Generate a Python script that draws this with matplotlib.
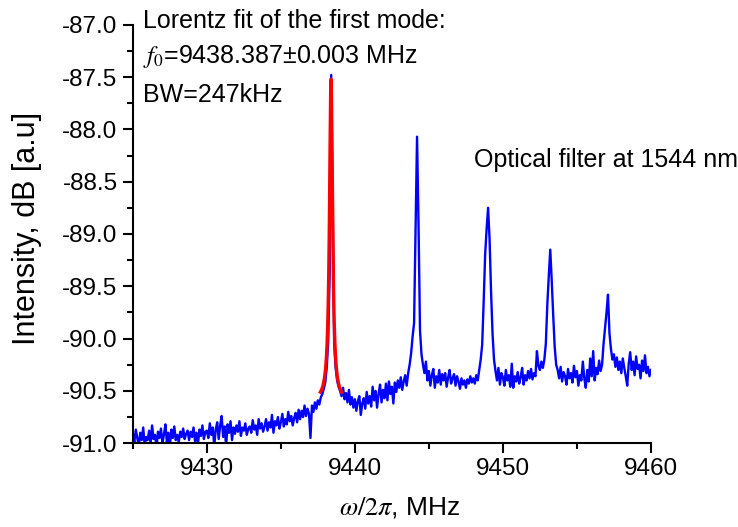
import numpy as np
import matplotlib.pyplot as plt
from matplotlib.ticker import MultipleLocator, FormatStrFormatter

plt.rcParams['font.family'] = ['Liberation Sans', 'DejaVu Sans']
plt.rcParams['mathtext.fontset'] = 'stix'
plt.rcParams['axes.unicode_minus'] = False

# spectrum analyser sweep: start frequency and step (MHz)
f_start = 9425.0
f_step = 0.1

# measured intensity, dB, one row per MHz
intensity_db = [
    -90.93, -90.99, -90.87, -90.95, -91.03, -90.90, -90.97, -90.85, -91.02, -90.94,
    -90.97, -90.88, -91.01, -90.83, -90.96, -90.92, -91.04, -90.89, -90.95, -90.86,
    -91.00, -90.92, -90.82, -90.99, -90.90, -91.03, -90.87, -90.95, -90.84, -90.97,
    -90.92, -90.99, -90.89, -90.94, -90.86, -90.96, -90.91, -90.88, -90.97, -90.89,
    -90.94, -90.85, -90.98, -90.90, -91.01, -90.87, -90.93, -90.83, -90.96, -90.89,
    -90.88, -90.95, -90.81, -90.92, -90.85, -91.03, -90.87, -90.80, -90.96, -90.83,
    -90.74, -90.94, -90.84, -91.03, -90.82, -90.90, -90.79, -90.97, -90.85, -90.91,
    -90.83, -90.89, -90.79, -90.93, -90.85, -90.88, -90.81, -90.92, -90.86, -90.84,
    -90.90, -90.78, -90.87, -90.83, -90.92, -90.77, -90.86, -90.81, -90.89, -90.84,
    -90.77, -90.88, -90.80, -90.85, -90.73, -90.90, -90.79, -90.83, -90.75, -90.86,
    -90.80, -90.72, -90.84, -90.77, -90.82, -90.70, -90.79, -90.74, -90.83, -90.76,
    -90.71, -90.80, -90.68, -90.77, -90.69, -90.75, -90.64, -90.74, -90.67, -90.72,
    -90.95, -90.64, -90.70, -90.61, -90.67, -90.59, -90.63, -90.56, -90.53, -90.48,
    -90.42, -90.28, -90.02, -89.35, -87.48, -88.70, -90.05, -90.28, -90.40, -90.46,
    -90.50, -90.55, -90.47, -90.58, -90.52, -90.61, -90.49, -90.63, -90.56, -90.66,
    -90.58, -90.69, -90.60, -90.55, -90.73, -90.62, -90.57, -90.67, -90.51, -90.62,
    -90.55, -90.65, -90.46, -90.59, -90.50, -90.66, -90.53, -90.44, -90.61, -90.49,
    -90.57, -90.43, -90.59, -90.41, -90.53, -90.46, -90.62, -90.42, -90.51, -90.40,
    -90.47, -90.37, -90.49, -90.41, -90.35, -90.45, -90.33, -90.25, -90.14, -89.98,
    -89.85, -88.95, -88.07, -88.90, -89.92, -90.15, -90.25, -90.33, -90.22, -90.40,
    -90.31, -90.45, -90.35, -90.29, -90.47, -90.36, -90.42, -90.30, -90.44, -90.34,
    -90.40, -90.33, -90.46, -90.37, -90.30, -90.43, -90.38, -90.34, -90.45, -90.36,
    -90.41, -90.48, -90.38, -90.44, -90.40, -90.47, -90.39, -90.43, -90.36, -90.42,
    -90.38, -90.43, -90.35, -90.40, -90.30, -90.20, -90.06, -89.65, -89.20, -88.95,
    -88.75, -89.05, -89.55, -89.95, -90.20, -90.31, -90.40, -90.28, -90.44, -90.33,
    -90.37, -90.45, -90.30, -90.40, -90.35, -90.46, -90.24, -90.47, -90.36, -90.41,
    -90.32, -90.43, -90.37, -90.28, -90.44, -90.35, -90.40, -90.31, -90.38, -90.29,
    -90.39, -90.33, -90.36, -90.12, -90.26, -90.30, -90.22, -90.28, -90.20, -90.05,
    -89.68, -89.40, -89.15, -89.45, -89.78, -90.08, -90.25, -90.30, -90.38, -90.27,
    -90.41, -90.32, -90.36, -90.44, -90.29, -90.38, -90.33, -90.42, -90.26, -90.37,
    -90.31, -90.45, -90.35, -90.40, -90.22, -90.38, -90.47, -90.30, -90.41, -90.19,
    -90.36, -90.12, -90.40, -90.28, -90.34, -90.21, -90.31, -90.25, -90.05, -89.90,
    -89.75, -89.58, -89.95, -90.10, -90.20, -90.15, -90.27, -90.18, -90.30, -90.22,
    -90.33, -90.19, -90.28, -90.36, -90.45, -90.24, -90.13, -90.30, -90.22, -90.35,
    -90.17, -90.29, -90.25, -90.38, -90.21, -90.31, -90.16, -90.33, -90.27, -90.36,
    -90.30,
]
freq = f_start + f_step * np.arange(len(intensity_db))

# Lorentz fit of the first mode
f0 = 9438.387      # MHz
bw = 0.247         # MHz (FWHM)
fit_base = -90.60  # dB
fit_height = 3.08  # dB
fit_lo, fit_hi = 9437.67, 9439.12

ff = np.linspace(fit_lo, fit_hi, 600)
fit = fit_base + fit_height / (1 + (2 * (ff - f0) / bw) ** 2)

fig = plt.figure(figsize=(7.38, 5.27), dpi=100)
ax = fig.add_axes([0.180, 0.159, 0.702, 0.794])

ax.plot(freq, intensity_db, color='#0000ff', lw=1.7)
ax.plot(ff, fit, color='#ff0000', lw=2.4)

ax.set_xlim(9425, 9460)
ax.set_ylim(-91, -87)
ax.xaxis.set_major_locator(MultipleLocator(10))
ax.xaxis.set_minor_locator(MultipleLocator(5))
ax.yaxis.set_major_locator(MultipleLocator(0.5))
ax.yaxis.set_minor_locator(MultipleLocator(0.25))
ax.yaxis.set_major_formatter(FormatStrFormatter('%.1f'))

for s in ['top', 'right']:
    ax.spines[s].set_visible(False)
for s in ['left', 'bottom']:
    ax.spines[s].set_linewidth(1.5)
ax.tick_params(which='major', direction='out', length=7, width=1.5, labelsize=17.5, pad=4)
ax.tick_params(which='minor', direction='out', length=4, width=1.5)

W, H = 738, 527
fs = 18
fig.text(143 / W, 1 - 28 / H, 'Lorentz fit of the first mode:', fontsize=fs, va='baseline')
fig.text(143 / W, 1 - 63 / H, r'$f_0$=9438.387±0.003 MHz', fontsize=fs, va='baseline')
fig.text(143 / W, 1 - 102 / H, 'BW=247kHz', fontsize=fs, va='baseline')
fig.text(474 / W, 1 - 167 / H, 'Optical filter at 1544 nm', fontsize=fs, va='baseline')

fig.text(27 / W, 1 - 228 / H, 'Intensity, dB [a.u]', fontsize=22, rotation=90,
         ha='center', va='center')
fig.text(400 / W, 1 - 515 / H, r'$\omega/\mathit{2}\pi$, MHz', fontsize=19,
         ha='center', va='baseline')

fig.savefig('out.png', dpi=100)
